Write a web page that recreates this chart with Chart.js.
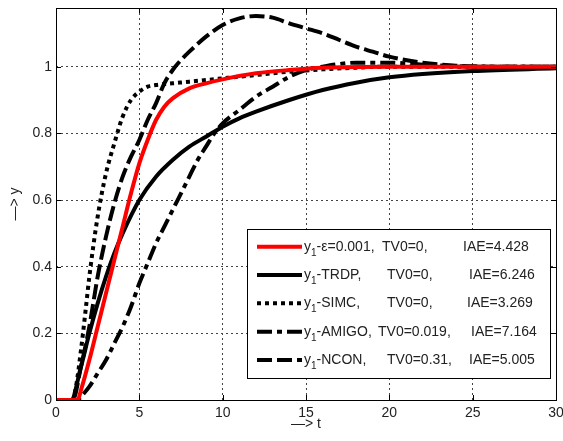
<!DOCTYPE html>
<html lang="en">
<head>
  <meta charset="UTF-8">
  <title>Step response</title>
  <style>
    body { margin: 0; background: #fff; }
    .card { position: relative; width: 563px; height: 441px; }
  </style>
</head>
<body>
  <div class="card">
    <canvas id="stepChart"></canvas>
  </div>
</body>
</html>
<script src="https://cdn.jsdelivr.net/npm/chart.js"></script>
<script>
  // valores
  const tEps = [0, 1.3, 1.5, 2, 2.5, 3, 3.5, 4, 4.5, 5, 5.5, 6, 6.5, 7, 8, 9, 10, 12, 14, 16, 20, 30];
  const yEps = [0, 0, 0.03, 0.12, 0.22, 0.32, 0.42, 0.52, 0.62, 0.71, 0.78, 0.84, 0.88, 0.905, 0.935, 0.95, 0.962, 0.98, 0.99, 0.997, 1, 1];

  const tTrdp = [0, 0.9, 1.5, 2, 2.5, 3, 3.5, 4, 5, 6, 7, 8, 9, 10, 11, 12, 14, 16, 18, 20, 22, 25, 30];
  const yTrdp = [0, 0, 0.1, 0.2, 0.29, 0.37, 0.44, 0.5, 0.6, 0.67, 0.72, 0.76, 0.79, 0.82, 0.845, 0.865, 0.9, 0.93, 0.952, 0.968, 0.978, 0.987, 0.995];

  const tSimc = [0, 1, 1.2, 1.5, 1.8, 2, 2.5, 3, 3.5, 4, 4.5, 5, 5.5, 6, 7, 8, 10, 12, 14, 16, 18, 20, 30];
  const ySimc = [0, 0, 0.04, 0.15, 0.28, 0.37, 0.55, 0.68, 0.77, 0.85, 0.9, 0.925, 0.94, 0.945, 0.95, 0.955, 0.965, 0.975, 0.985, 0.992, 0.997, 1, 1];

  const tAmigo = [0, 1.3, 1.5, 2, 2.5, 3, 3.5, 4, 4.5, 5, 5.5, 6, 6.5, 7, 7.5, 8, 8.5, 9, 9.5, 10, 11, 12, 13, 14, 15, 16, 17, 18, 20, 22, 24, 26, 30];
  const yAmigo = [0, 0, 0.01, 0.04, 0.08, 0.12, 0.17, 0.22, 0.28, 0.35, 0.41, 0.47, 0.52, 0.57, 0.62, 0.67, 0.72, 0.76, 0.8, 0.83, 0.87, 0.91, 0.94, 0.97, 0.99, 1.0, 1.008, 1.012, 1.012, 1.006, 1.002, 1.0, 1.0];

  const tNcon = [0, 1, 1.5, 2, 2.5, 3, 3.5, 4, 4.5, 5, 5.5, 6, 6.5, 7, 7.5, 8, 9, 10, 11, 12, 13, 14, 15, 16, 17, 18, 19, 20, 22, 24, 26, 30];
  const yNcon = [0, 0, 0.1, 0.22, 0.37, 0.49, 0.59, 0.67, 0.73, 0.78, 0.84, 0.89, 0.95, 0.99, 1.02, 1.045, 1.09, 1.125, 1.145, 1.152, 1.147, 1.13, 1.115, 1.1, 1.08, 1.06, 1.045, 1.03, 1.012, 1.003, 1.0, 1.0];

  const legendNames = ['-ε=0.001,', '-TRDP,', '-SIMC,', '-AMIGO,', '-NCON,'];
  const legendTv = ['TV0=0,', 'TV0=0,', 'TV0=0,', 'TV0=0.019,', 'TV0=0.31,'];
  const legendIae = ['IAE=4.428', 'IAE=6.246', 'IAE=3.269', 'IAE=7.164', 'IAE=5.005'];

  const FONT = '"Liberation Sans", Arial, Helvetica, sans-serif';

  function pontos(ts, ys) {
    return ts.map((t, i) => ({ x: t, y: ys[i] }));
  }

  function linha(ts, ys, cor, dash) {
    return {
      data: pontos(ts, ys),
      borderColor: cor,
      borderWidth: 4,
      borderDash: dash,
      borderCapStyle: 'butt',
      pointRadius: 0,
      cubicInterpolationMode: 'monotone',
      fill: false
    };
  }

  // moldura + ticks para dentro (estilo MATLAB)
  const molduraPlugin = {
    id: 'moldura',
    afterDatasetsDraw(chart) {
      const { ctx, chartArea: a, scales } = chart;
      ctx.save();
      ctx.strokeStyle = '#000';
      ctx.lineWidth = 1;
      ctx.setLineDash([]);
      ctx.beginPath();
      scales.x.ticks.forEach(tk => {
        const px = Math.round(scales.x.getPixelForValue(tk.value)) + 0.5;
        ctx.moveTo(px, a.bottom); ctx.lineTo(px, a.bottom - 5);
        ctx.moveTo(px, a.top); ctx.lineTo(px, a.top + 5);
      });
      scales.y.ticks.forEach(tk => {
        const py = Math.round(scales.y.getPixelForValue(tk.value)) + 0.5;
        ctx.moveTo(a.left, py); ctx.lineTo(a.left + 5, py);
        ctx.moveTo(a.right, py); ctx.lineTo(a.right - 5, py);
      });
      ctx.stroke();
      ctx.strokeRect(Math.round(a.left) + 0.5, Math.round(a.top) + 0.5,
        Math.round(a.right - a.left), Math.round(a.bottom - a.top));
      ctx.restore();
    }
  };

  // legenda dentro do gráfico
  const legendaPlugin = {
    id: 'legenda',
    afterDraw(chart) {
      const { ctx } = chart;
      const bx = 247.5, by = 229.5, bw = 303, bh = 149;
      const rowY = [246.7, 275, 303.3, 331.7, 360];
      const tvX = [382, 387, 387, 378, 387];
      const iaeX = [463, 469, 467, 471, 469];
      ctx.save();
      ctx.fillStyle = '#fff';
      ctx.fillRect(bx, by, bw, bh);
      ctx.strokeStyle = '#000';
      ctx.lineWidth = 1;
      ctx.strokeRect(bx, by, bw, bh);
      chart.data.datasets.forEach((ds, i) => {
        const y = rowY[i];
        ctx.beginPath();
        ctx.strokeStyle = ds.borderColor;
        ctx.lineWidth = 4;
        ctx.lineCap = 'butt';
        ctx.setLineDash(ds.borderDash || []);
        ctx.moveTo(257, y);
        ctx.lineTo(302, y);
        ctx.stroke();
        ctx.setLineDash([]);
        ctx.fillStyle = '#222';
        ctx.textBaseline = 'alphabetic';
        ctx.font = '14px ' + FONT;
        const base = y + 4;
        ctx.fillText('y', 304, base);
        let x = 304 + ctx.measureText('y').width;
        ctx.font = '10px ' + FONT;
        ctx.fillText('1', x, base + 5);
        x += ctx.measureText('1').width;
        ctx.font = '14px ' + FONT;
        ctx.fillText(legendNames[i], x, base);
        ctx.fillText(legendTv[i], tvX[i], base);
        ctx.fillText(legendIae[i], iaeX[i], base);
      });
      ctx.restore();
    }
  };

  const ctx = document.getElementById('stepChart').getContext('2d');
  new Chart(ctx, {
    type: 'line',
    data: {
      datasets: [
        linha(tEps, yEps, '#ff0000', []),
        linha(tTrdp, yTrdp, '#000000', []),
        linha(tSimc, ySimc, '#000000', [4, 4]),
        linha(tAmigo, yAmigo, '#000000', [15, 5, 5, 5]),
        linha(tNcon, yNcon, '#000000', [15, 5])
      ]
    },
    options: {
      responsive: true,
      maintainAspectRatio: false,
      animation: false,
      layout: { padding: { top: 8, right: 7, left: 0, bottom: 0 } },
      plugins: {
        legend: { display: false },
        tooltip: { enabled: false }
      },
      scales: {
        x: {
          type: 'linear',
          min: 0,
          max: 30,
          ticks: {
            stepSize: 5,
            color: '#222',
            font: { family: FONT, size: 14 },
            padding: 5,
            maxRotation: 0
          },
          grid: { color: '#444', lineWidth: 1, drawTicks: false },
          border: { display: false, dash: [2, 3] },
          title: {
            display: true,
            text: '—> t',
            color: '#222',
            font: { family: FONT, size: 14 },
            padding: { top: 0, bottom: 8 }
          },
          afterFit(scale) {
            scale.height = 41;
            scale.paddingLeft = 0;
            scale.paddingRight = 0;
          }
        },
        y: {
          min: 0,
          max: 1.176,
          ticks: {
            stepSize: 0.2,
            includeBounds: false,
            color: '#222',
            font: { family: FONT, size: 14 },
            padding: 4,
            callback: v => String(Math.round(v * 10) / 10)
          },
          grid: { color: '#444', lineWidth: 1, drawTicks: false },
          border: { display: false, dash: [2, 3] },
          title: {
            display: true,
            text: '—> y',
            color: '#222',
            font: { family: FONT, size: 14 },
            padding: { top: 7, bottom: 0 }
          },
          afterFit(scale) {
            scale.width = 56;
            scale.paddingTop = 0;
            scale.paddingBottom = 0;
          }
        }
      }
    },
    plugins: [molduraPlugin, legendaPlugin]
  });
</script>
